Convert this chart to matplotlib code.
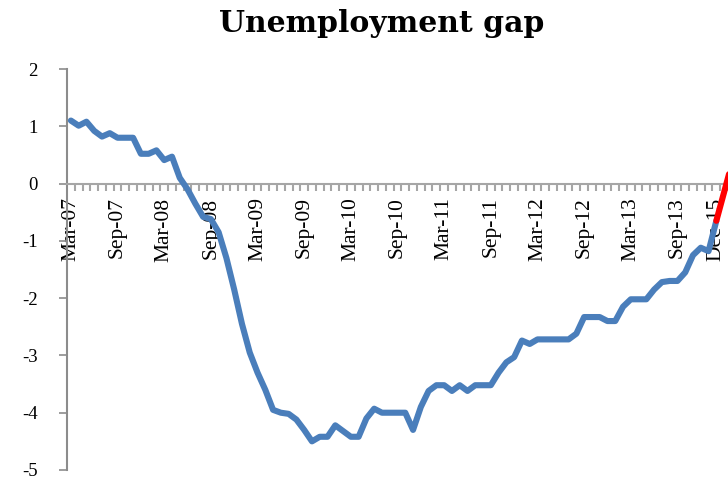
import numpy as np
import matplotlib
matplotlib.use("Agg")
import matplotlib.pyplot as plt

# monthly unemployment gap, Mar-07 onwards (one value per month)
gap = [
    1.10, 1.01, 1.08, 0.92, 0.82, 0.88, 0.80, 0.80, 0.80, 0.52,
    0.52, 0.58, 0.41, 0.47, 0.10, -0.10, -0.35, -0.58, -0.62, -0.85,
    -1.30, -1.85, -2.45, -2.95, -3.30, -3.60, -3.95, -4.00, -4.02, -4.12,
    -4.30, -4.50, -4.42, -4.42, -4.22, -4.32, -4.42, -4.42, -4.10, -3.93,
    -4.00, -4.00, -4.00, -4.00, -4.30, -3.90, -3.62, -3.52, -3.52, -3.62,
    -3.52, -3.62, -3.52, -3.52, -3.52, -3.30, -3.12, -3.03, -2.74, -2.80,
    -2.72, -2.72, -2.72, -2.72, -2.72, -2.62, -2.33, -2.33, -2.33, -2.40,
    -2.40, -2.15, -2.02, -2.02, -2.02, -1.85, -1.72, -1.70, -1.70, -1.55,
    -1.25, -1.12, -1.18, -0.65,
]
# projection segment (starts at last actual month)
proj_start = 83
proj = [-0.65, -0.15, 0.35]

tick_pos = [0, 6, 12, 18, 24, 30, 36, 42, 48, 54, 60, 66, 72, 78, 83]
tick_labels = ["Mar-07", "Sep-07", "Mar-08", "Sep-08", "Mar-09", "Sep-09",
               "Mar-10", "Sep-10", "Mar-11", "Sep-11", "Mar-12", "Sep-12",
               "Mar-13", "Sep-13", "Dec-15"]

plt.rcParams["axes.unicode_minus"] = False
serif = ["Liberation Serif", "DejaVu Serif"]

fig = plt.figure(figsize=(7.28, 4.82), dpi=100)
ax = fig.add_axes([67 / 728, 1 - 470 / 482, 1 - 67 / 728, (470 - 69) / 482])

x = np.arange(len(gap))
ax.plot(x, gap, color="#4A7EBB", linewidth=4.4, solid_joinstyle="round",
        solid_capstyle="round", zorder=3)
xp = np.arange(proj_start, proj_start + len(proj))
ax.plot(xp, proj, color="#FF0000", linewidth=4.4, solid_joinstyle="round",
        solid_capstyle="round", zorder=3)

ax.set_xlim(-0.5, 84.4)
ax.set_ylim(-5, 2)

for s in ["top", "right"]:
    ax.spines[s].set_visible(False)
ax.spines["bottom"].set_position(("data", 0))
ax.spines["left"].set_color("#8C8C8C")
ax.spines["bottom"].set_color("#A6A6A6")
ax.spines["left"].set_linewidth(1.5)
ax.spines["bottom"].set_linewidth(1.5)

ax.tick_params(axis="y", direction="out", length=6, width=1.2, color="#8C8C8C", pad=15)
ax.tick_params(axis="x", which="major", length=0, pad=10, labelrotation=90)
ax.tick_params(axis="x", which="minor", direction="out", length=5, width=1.5,
               color="#A6A6A6")

ax.set_yticks(range(-5, 3))
ax.set_yticklabels([str(v) for v in range(-5, 3)], fontfamily=serif, fontsize=13.5)

ax.set_xticks(tick_pos)
ax.set_xticklabels(tick_labels, rotation=90, fontfamily=serif, fontsize=15.5,
                   va="top", ha="center")
ax.set_xticks(np.arange(0.5, 85, 1), minor=True)

fig.text(0.524, 1 - 24 / 482, "Unemployment gap", ha="center", va="center",
         fontsize=21.5, fontweight="bold", fontfamily=["DejaVu Serif"])

fig.savefig("out.png", dpi=100)
